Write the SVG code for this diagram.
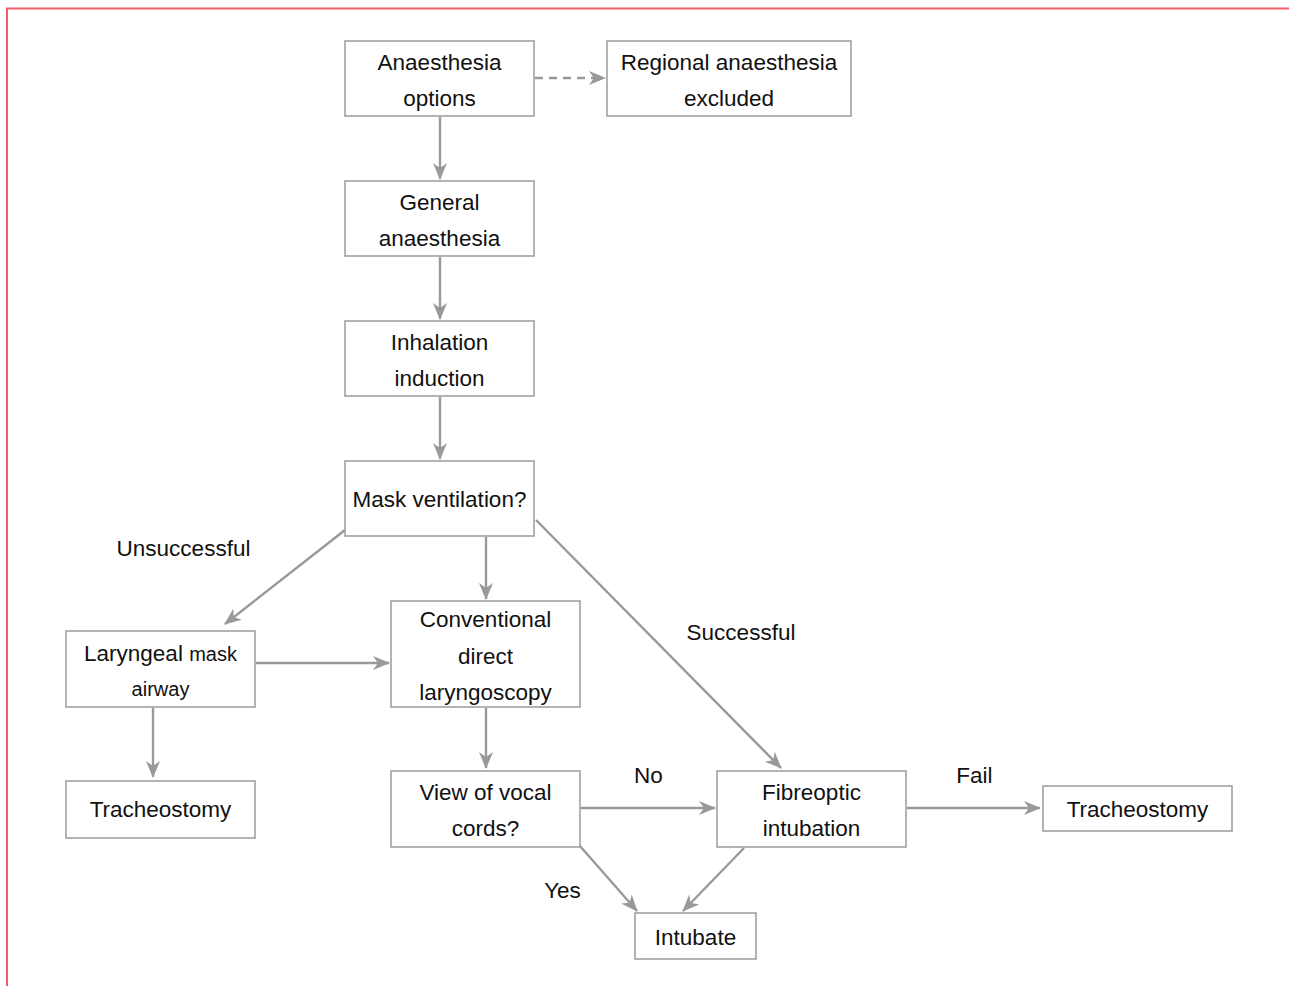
<svg xmlns="http://www.w3.org/2000/svg" width="1289" height="986" viewBox="0 0 1289 986">
<defs>
<style>
.box{fill:#fff;stroke:#9a9a9a;stroke-width:1.5}
.t{font-family:"Liberation Sans",Arial,sans-serif;font-size:22.5px;fill:#111;text-anchor:middle}
.s{font-size:20px}
.c{fill:none;stroke:#999;stroke-width:2.4;marker-end:url(#ah)}
.d{stroke-dasharray:8,6}
</style>
<marker id="ah" viewBox="0 0 17 14" refX="16" refY="7" markerWidth="17" markerHeight="14" markerUnits="userSpaceOnUse" orient="auto">
<path d="M0,0 L17,7 L0,14 L5,7 z" fill="#999"/>
</marker>
</defs>
<rect x="7" y="8.5" width="1300" height="1000" fill="none" stroke="#f0606a" stroke-width="2"/>
<g id="connectors">
<line class="c d" x1="535" y1="78" x2="605" y2="78"/>
<line class="c" x1="440" y1="117" x2="440" y2="179"/>
<line class="c" x1="440" y1="257" x2="440" y2="319"/>
<line class="c" x1="440" y1="397" x2="440" y2="459"/>
<line class="c" x1="345" y1="530" x2="225" y2="624"/>
<line class="c" x1="486" y1="537" x2="486" y2="599"/>
<line class="c" x1="536" y1="520" x2="781" y2="768"/>
<line class="c" x1="256" y1="663" x2="389" y2="663"/>
<line class="c" x1="153" y1="708" x2="153" y2="777"/>
<line class="c" x1="486" y1="708" x2="486" y2="768"/>
<line class="c" x1="581" y1="808" x2="715" y2="808"/>
<line class="c" x1="580" y1="846" x2="637" y2="911"/>
<line class="c" x1="744" y1="848" x2="683" y2="911"/>
<line class="c" x1="907" y1="808" x2="1040" y2="808"/>
</g>
<g id="labels">
<text class="t" x="183.5" y="556">Unsuccessful</text>
<text class="t" x="741" y="640">Successful</text>
<text class="t" x="648.5" y="783">No</text>
<text class="t" x="974.5" y="783">Fail</text>
<text class="t" x="562.5" y="898">Yes</text>
</g>
<g id="n-options"><rect class="box" x="345" y="41" width="189" height="75"/><text class="t" x="439.5" y="70">Anaesthesia</text><text class="t" x="439.5" y="106">options</text></g>
<g id="n-regional"><rect class="box" x="607" y="41" width="244" height="75"/><text class="t" x="729" y="70">Regional anaesthesia</text><text class="t" x="729" y="106">excluded</text></g>
<g id="n-general"><rect class="box" x="345" y="181" width="189" height="75"/><text class="t" x="439.5" y="210">General</text><text class="t" x="439.5" y="246">anaesthesia</text></g>
<g id="n-inhalation"><rect class="box" x="345" y="321" width="189" height="75"/><text class="t" x="439.5" y="350">Inhalation</text><text class="t" x="439.5" y="386">induction</text></g>
<g id="n-mask"><rect class="box" x="345" y="461" width="189" height="75"/><text class="t" x="439.5" y="507">Mask ventilation?</text></g>
<g id="n-lma"><rect class="box" x="66" y="631" width="189" height="76"/><text class="t" x="160.5" y="661">Laryngeal <tspan class="s">mask</tspan></text><text class="t s" x="160.5" y="696">airway</text></g>
<g id="n-conventional"><rect class="box" x="391" y="601" width="189" height="106"/><text class="t" x="485.5" y="627">Conventional</text><text class="t" x="485.5" y="664">direct</text><text class="t" x="485.5" y="700">laryngoscopy</text></g>
<g id="n-trach1"><rect class="box" x="66" y="781" width="189" height="57"/><text class="t" x="160.5" y="817">Tracheostomy</text></g>
<g id="n-view"><rect class="box" x="391" y="771" width="189" height="76"/><text class="t" x="485.5" y="800">View of vocal</text><text class="t" x="485.5" y="836">cords?</text></g>
<g id="n-fibre"><rect class="box" x="717" y="771" width="189" height="76"/><text class="t" x="811.5" y="800">Fibreoptic</text><text class="t" x="811.5" y="836">intubation</text></g>
<g id="n-trach2"><rect class="box" x="1043" y="786" width="189" height="45"/><text class="t" x="1137.5" y="817">Tracheostomy</text></g>
<g id="n-intubate"><rect class="box" x="635" y="913" width="121" height="46"/><text class="t" x="695.5" y="945">Intubate</text></g>
</svg>
